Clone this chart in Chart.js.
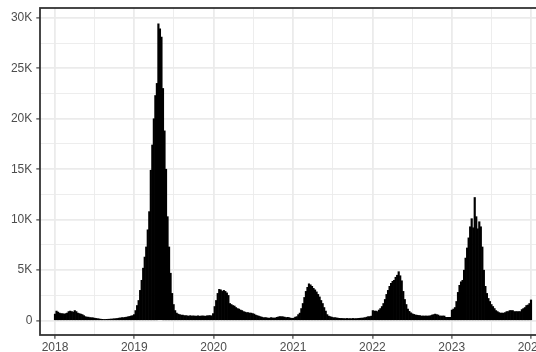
<!DOCTYPE html>
<html><head><meta charset="utf-8">
<script src="https://cdn.jsdelivr.net/npm/chart.js@4"></script>
<style>
html,body{margin:0;padding:0;background:#fff;overflow:hidden;width:536px;height:352px}
#wrap{position:absolute;left:0;top:0;width:570px;height:352px}
</style></head><body>
<div id="wrap"><canvas id="c" width="570" height="352"></canvas></div>
<script>
// weekly counts, first week starting 2018-01-01, one value per week
const firstWeek = '2018-01-01';
const cases2018 = [650,950,850,750,700,700,650,700,750,900,950,900,850,1000,900,750,700,650,600,500,400,350,350,300,300,280,250,220,200,170,150,130,120,120,130,140,150,160,170,190,200,220,250,270,300,300,320,350,380,420,460,500];
const cases2019 = [600,1000,1500,2000,3000,4000,5200,6300,7300,9000,10800,14900,17400,20000,22300,23500,29400,28900,28100,23000,18800,15000,10300,7300,4700,2700,1600,1000,750,650,600,550,550,500,500,480,450,500,450,480,450,450,480,450,450,480,450,450,480,500,500,480];
const cases2020 = [700,1400,2000,2700,3100,3050,2900,3000,2900,2750,2500,1700,1600,1500,1450,1300,1200,1150,1050,1000,900,850,800,800,750,750,700,650,550,500,450,400,350,300,300,300,250,250,300,280,250,280,330,380,400,400,380,350,300,330,300,250];
const cases2021 = [230,250,350,400,600,750,1200,1700,2300,2900,3300,3650,3550,3400,3200,3050,2850,2600,2350,2000,1700,1300,950,600,450,400,350,300,300,280,250,230,220,220,200,200,220,200,200,200,220,200,200,220,230,250,250,280,300,350,400,400];
const cases2022 = [450,1000,950,950,900,1050,1200,1400,1700,2100,2600,3000,3400,3700,3900,4000,4300,4500,4850,4450,3950,2900,2100,1600,1150,920,780,680,620,570,540,520,500,460,460,460,460,460,460,500,560,600,650,600,560,460,460,460,460,330,330,330];
const cases2023 = [330,1050,1150,1300,1900,2800,3500,3850,4000,5000,6200,7200,8200,9300,10100,9200,12200,10300,9100,9800,9300,7300,5000,3400,2700,2200,1900,1600,1400,1200,1000,900,800,750,750,750,800,900,900,1000,1000,1000,900,900,900,900,900,1100,1200,1300,1500,1550];
const cases2024 = [1700,2050];

const tickYears = [2018,2019,2020,2021,2022,2023,2024];
const yTickValues = [0,2500,5000,7500,10000,12500,15000,17500,20000,22500,25000,27500,30000];

const DAY = 86400000;
const t0 = Date.parse(firstWeek + 'T00:00:00Z');
const dayOf = (y,m,d) => (Date.UTC(y,m,d) - t0) / DAY;
const allCases = [].concat(cases2018,cases2019,cases2020,cases2021,cases2022,cases2023,cases2024);
const points = allCases.map((v,k) => ({x: k*7, y: v}));

const majorX = tickYears.map(y => dayOf(y,0,1));
const minorX = tickYears.slice(0,-1).map((y,i) => (majorX[i] + majorX[i+1]) / 2);
const allX = majorX.concat(minorX).sort((a,b)=>a-b);
const isMajorX = v => majorX.some(m => Math.abs(m - v) < 1e-6);
const isMajorY = v => v % 5000 === 0;

const pxPerDay = 476 / (majorX[6] - majorX[0]);
const xMin = majorX[0] - 15 / pxPerDay;
const xMax = majorX[6] + 15 / pxPerDay;

Chart.defaults.font.family = '"Liberation Sans", Arial, Helvetica, sans-serif';

const panelBorder = {
  id: 'panelBorder',
  afterDatasetsDraw(chart) {
    const {ctx, chartArea: a} = chart;
    ctx.save();
    ctx.strokeStyle = '#333333';
    ctx.lineWidth = 1.8;
    ctx.strokeRect(a.left, a.top, a.right - a.left, a.bottom - a.top);
    ctx.restore();
  }
};

new Chart(document.getElementById('c'), {
  type: 'bar',
  data: { datasets: [{ data: points, backgroundColor: '#000000', borderWidth: 0, barPercentage: 1.0, categoryPercentage: 1.0 }] },
  options: {
    responsive: false, animation: false, devicePixelRatio: 1,
    layout: { padding: { top: 8, right: 24, left: 0, bottom: 0 } },
    plugins: { legend: { display: false }, tooltip: { enabled: false } },
    scales: {
      x: {
        type: 'linear', min: xMin, max: xMax, offset: false,
        grid: {
          offset: false, color: '#EBEBEB',
          lineWidth: c => isMajorX(c.tick.value) ? 1.8 : 0.9,
          drawTicks: true, tickLength: 3.7, tickWidth: 1.1,
          tickColor: c => isMajorX(c.tick.value) ? '#333333' : 'rgba(0,0,0,0)'
        },
        border: { display: false },
        ticks: {
          autoSkip: false, maxRotation: 0, minRotation: 0, padding: 2,
          color: '#4D4D4D', font: { size: 12 },
          callback: v => { const i = majorX.findIndex(m => Math.abs(m - v) < 1e-6); return i >= 0 ? String(tickYears[i]) : ''; }
        },
        afterBuildTicks: s => { s.ticks = allX.map(v => ({ value: v })); },
        afterFit: s => { s.height = 17; s.paddingLeft = 0; s.paddingRight = 0; }
      },
      y: {
        type: 'linear', min: -1420, max: 30970,
        grid: {
          color: '#EBEBEB',
          lineWidth: c => isMajorY(c.tick.value) ? 1.8 : 0.9,
          drawTicks: true, tickLength: 3.7, tickWidth: 1.1,
          tickColor: c => isMajorY(c.tick.value) ? '#333333' : 'rgba(0,0,0,0)'
        },
        border: { display: false },
        ticks: {
          autoSkip: false, padding: 4, color: '#4D4D4D', font: { size: 12 },
          callback: v => isMajorY(v) ? (v === 0 ? '0' : (v / 1000) + 'K') : ''
        },
        afterBuildTicks: s => { s.ticks = yTickValues.map(v => ({ value: v })); },
        afterFit: s => { s.width = 40; s.paddingTop = 0; s.paddingBottom = 0; }
      }
    }
  },
  plugins: [panelBorder]
});
</script>
</body></html>
